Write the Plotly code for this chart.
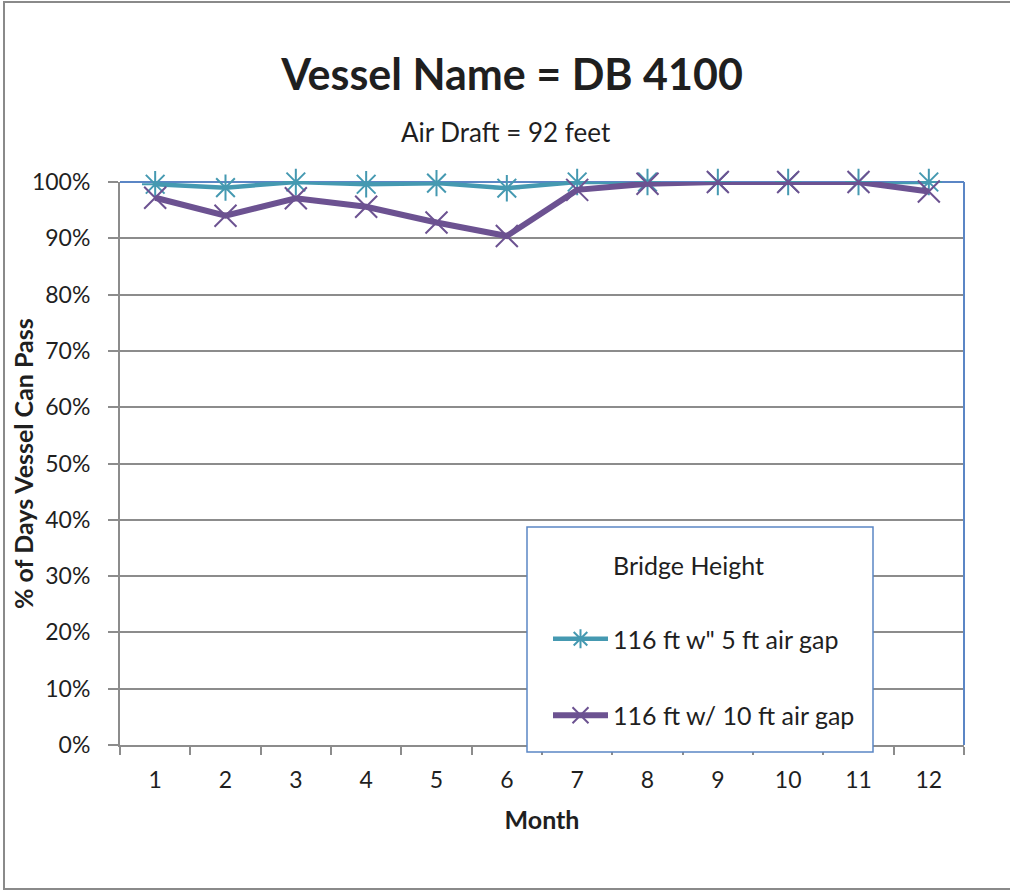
import plotly.graph_objects as go

# Monthly share of days the vessel can pass under the bridge
months = ["1", "2", "3", "4", "5", "6", "7", "8", "9", "10", "11", "12"]
gap_5ft = [0.996, 0.990, 1.000, 0.996, 0.998, 0.989, 1.000, 1.000, 1.000, 1.000, 1.000, 1.000]
gap_10ft = [0.972, 0.940, 0.971, 0.956, 0.928, 0.904, 0.986, 0.997, 1.000, 1.000, 1.000, 0.983]
series_names = ["116 ft w\" 5 ft air gap", "116 ft w/ 10 ft air gap"]
y_ticks = [0.0, 0.1, 0.2, 0.3, 0.4, 0.5, 0.6, 0.7, 0.8, 0.9, 1.0]

TEAL = "#4599B1"
PURPLE = "#6C5291"
GRID = "#8C8C8C"
FRAME = "#5B86C5"
FONT = "Lato"
TEXT = "#1F1F1F"

W, H = 1010, 890
L, R, T, B = 120, 46, 182, 145
pw, ph = W - L - R, H - T - B


def px_x(x):
    return (x - L) / pw


def px_y(y):
    return (H - B - y) / ph


fig = go.Figure()
fig.add_trace(go.Scatter(
    x=months, y=gap_5ft, name=series_names[0], mode="lines+markers",
    line=dict(color=TEAL, width=4.5),
    marker=dict(symbol="asterisk-open", size=22, color=TEAL, line=dict(color=TEAL, width=2)),
    legendgroup="a", cliponaxis=False,
))
fig.add_trace(go.Scatter(
    x=months, y=gap_10ft, name=series_names[1], mode="lines+markers",
    line=dict(color=PURPLE, width=6),
    marker=dict(symbol="x-thin-open", size=22, color=PURPLE, line=dict(color=PURPLE, width=2)),
    legendgroup="b", cliponaxis=False,
))

shapes = [
    # outer chart frame
    dict(type="rect", xref="paper", yref="paper",
         x0=px_x(4), x1=px_x(1014), y0=px_y(889), y1=px_y(2),
         line=dict(color="#8A8A8A", width=2), fillcolor="rgba(0,0,0,0)", layer="below"),
    # plot-area frame on top and right
    dict(type="line", xref="paper", yref="paper", x0=0, x1=1, y0=1, y1=1,
         line=dict(color=FRAME, width=2), layer="below"),
    dict(type="line", xref="paper", yref="paper", x0=1, x1=1, y0=0, y1=1,
         line=dict(color=FRAME, width=2), layer="above"),
    # legend box
    dict(type="rect", xref="paper", yref="paper",
         x0=px_x(527), x1=px_x(873), y0=px_y(752), y1=px_y(527),
         line=dict(color=FRAME, width=1.5), fillcolor="white", layer="above"),
]

fig.update_layout(
    width=W, height=H,
    margin=dict(l=L, r=R, t=T, b=B),
    paper_bgcolor="white", plot_bgcolor="white",
    font=dict(family=FONT, color=TEXT, size=23),
    title=dict(text="<b>Vessel Name = DB 4100</b>", x=512 / W,
               xanchor="center", y=1 - 75 / H, yanchor="middle", yref="container",
               font=dict(size=43, family=FONT, color=TEXT)),
    showlegend=True,
    legend=dict(
        x=px_x(548), y=px_y(616), xanchor="left", yanchor="top",
        bgcolor="rgba(0,0,0,0)", borderwidth=0,
        font=dict(size=25, family=FONT, color=TEXT),
        tracegroupgap=41, itemwidth=55,
    ),
    shapes=shapes,
    annotations=[
        dict(text="Air Draft = 92 feet", xref="paper", yref="paper",
             x=px_x(506), y=px_y(132), xanchor="center", yanchor="middle",
             showarrow=False, font=dict(size=26, family=FONT, color=TEXT)),
        dict(text="<b>% of Days Vessel Can Pass</b>", xref="paper", yref="paper",
             x=px_x(23), y=px_y(464), xanchor="center", yanchor="middle",
             textangle=-90, showarrow=False,
             font=dict(size=25, family=FONT, color=TEXT)),
        # legend heading
        dict(text="Bridge Height", xref="paper", yref="paper",
             x=px_x(611), y=px_y(565), xanchor="left", yanchor="middle",
             showarrow=False, font=dict(size=25, family=FONT, color=TEXT)),
    ],
)

fig.update_xaxes(
    type="category", tickson="boundaries", range=[-0.5, 11.5],
    ticks="outside", ticklen=8,
    tickcolor=GRID, tickwidth=1.5, showline=True, linecolor=GRID, linewidth=2,
    showgrid=False, tickfont=dict(size=23), ticklabelstandoff=13,
    title=dict(text="<b>Month</b>", font=dict(size=25), standoff=20),
)
fig.update_yaxes(
    range=[0, 1.0], tickvals=y_ticks, tickformat=".0%", ticks="outside", ticklen=10,
    tickcolor=GRID, tickwidth=1.5, showline=True, linecolor=GRID, linewidth=2,
    showgrid=True, gridcolor=GRID, gridwidth=1.5, zeroline=False,
    tickfont=dict(size=23), ticklabelstandoff=13,
)

fig.write_html("out.html")
